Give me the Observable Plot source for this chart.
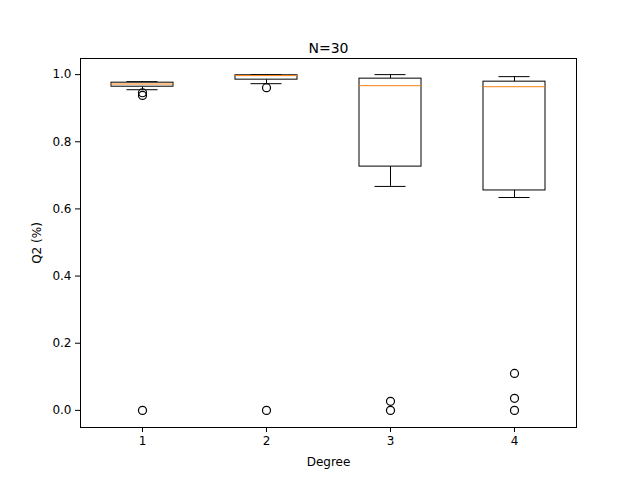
<!DOCTYPE html>
<html><head>
<script src="https://cdn.jsdelivr.net/npm/d3@7"></script>
<script src="https://cdn.jsdelivr.net/npm/@observablehq/plot@0.6"></script>
<style>body{margin:0;background:#fff}</style>
</head><body><div id="chart"></div>
<script>
const degrees = [1, 2, 3, 4];
const whiskerLow = [0.955, 0.973, 0.667, 0.634];
const q1 = [0.964, 0.985, 0.726, 0.655];
const medians = [0.972, 0.997, 0.967, 0.964];
const q3 = [0.976, 0.998, 0.988, 0.979];
const whiskerHigh = [0.979, 1.0, 1.0, 0.994];
const outliers = [
  [1, 0.946], [1, 0.938], [1, 0.0],
  [2, 0.961], [2, 0.0],
  [3, 0.027], [3, 0.0],
  [4, 0.11], [4, 0.036], [4, 0.0]
];

const boxes = degrees.map((d, i) => ({
  d, lo: whiskerLow[i], q1: q1[i], med: medians[i], q3: q3[i], hi: whiskerHigh[i]
}));
const fl = outliers.map(([d, v]) => ({d, v}));
const hw = 0.25, cw = 0.125;

const chart = Plot.plot({
  width: 640, height: 480,
  marginLeft: 80, marginRight: 64, marginTop: 58, marginBottom: 53,
  style: {fontFamily: "DejaVu Sans", fontSize: "12px", color: "black", background: "white"},
  x: {domain: [0.5, 4.5], ticks: degrees, tickFormat: d => d, label: "Degree", labelAnchor: "center", labelArrow: "none", labelOffset: 44},
  y: {domain: [-0.051, 1.048], ticks: [0, 0.2, 0.4, 0.6, 0.8, 1.0], tickFormat: d3.format(".1f"), label: "Q2 (%)", labelAnchor: "center", labelArrow: "none", labelOffset: 58},
  marks: [
    Plot.frame({stroke: "black"}),
    Plot.axisX({ticks: degrees, tickFormat: d => d, tickSize: 5, tickPadding: 4, fontSize: 12, label: "Degree", labelAnchor: "center", labelArrow: "none", labelOffset: 38}),
    Plot.axisY({ticks: [0, 0.2, 0.4, 0.6, 0.8, 1.0], tickFormat: d3.format(".1f"), tickSize: 5, tickPadding: 4, fontSize: 12, label: "Q2 (%)", labelAnchor: "center", labelArrow: "none", labelOffset: 48}),
    Plot.ruleX(boxes, {x: "d", y1: "lo", y2: "q1", stroke: "black"}),
    Plot.ruleX(boxes, {x: "d", y1: "q3", y2: "hi", stroke: "black"}),
    Plot.ruleY(boxes, {y: "lo", x1: d => d.d - cw, x2: d => d.d + cw, stroke: "black"}),
    Plot.ruleY(boxes, {y: "hi", x1: d => d.d - cw, x2: d => d.d + cw, stroke: "black"}),
    Plot.rect(boxes, {x1: d => d.d - hw, x2: d => d.d + hw, y1: "q1", y2: "q3", fill: "white", stroke: "black"}),
    Plot.ruleY(boxes, {y: "med", x1: d => d.d - hw, x2: d => d.d + hw, stroke: "#ff7f0e"}),
    Plot.dot(fl, {x: "d", y: "v", r: 4, stroke: "black", strokeWidth: 1.2, fill: "none"}),
    Plot.text(["N=30"], {frameAnchor: "top", dy: -15, fontSize: 14, fill: "black"})
  ]
});
document.getElementById("chart").append(chart);
</script>
</body></html>
